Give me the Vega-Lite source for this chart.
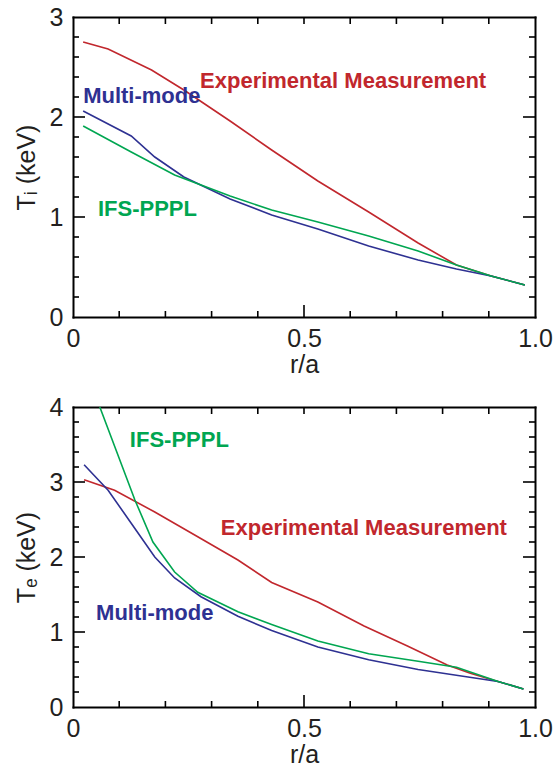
{
  "$schema": "https://vega.github.io/schema/vega-lite/v6.json",
  "padding": {"left": 14, "top": 5, "right": 5, "bottom": 5},
  "spacing": 18,
  "config": {
    "view": {"stroke": null},
    "font": "Liberation Sans",
    "axis": {
      "grid": false, "ticks": false, "tickSize": 0, "domain": true, "domainColor": "#000000", "domainWidth": 2, "domainCap": "square", "zindex": 1,
      "labelFlush": false, "labelOverlap": false,
      "labelFont": "Liberation Sans", "labelFontSize": 25, "labelColor": "#231f20",
      "titleFont": "Liberation Sans", "titleFontSize": 25, "titleFontWeight": "normal", "titleColor": "#231f20"
    },
    "tick": {"thickness": 1.6, "color": "#000000", "opacity": 1}
  },
  "datasets": {
    "ti": [
      {"r": 0.022, "T": 2.75, "s": "exp"}, {"r": 0.076, "T": 2.68, "s": "exp"}, {"r": 0.17, "T": 2.47, "s": "exp"}, {"r": 0.24, "T": 2.27, "s": "exp"}, {"r": 0.34, "T": 1.96, "s": "exp"}, {"r": 0.43, "T": 1.67, "s": "exp"}, {"r": 0.53, "T": 1.36, "s": "exp"}, {"r": 0.64, "T": 1.05, "s": "exp"}, {"r": 0.747, "T": 0.74, "s": "exp"}, {"r": 0.83, "T": 0.52, "s": "exp"}, {"r": 0.905, "T": 0.41, "s": "exp"}, {"r": 0.978, "T": 0.32, "s": "exp"},
      {"r": 0.022, "T": 2.06, "s": "mm"}, {"r": 0.126, "T": 1.81, "s": "mm"}, {"r": 0.177, "T": 1.6, "s": "mm"}, {"r": 0.24, "T": 1.4, "s": "mm"}, {"r": 0.34, "T": 1.18, "s": "mm"}, {"r": 0.43, "T": 1.02, "s": "mm"}, {"r": 0.53, "T": 0.88, "s": "mm"}, {"r": 0.64, "T": 0.71, "s": "mm"}, {"r": 0.747, "T": 0.57, "s": "mm"}, {"r": 0.83, "T": 0.48, "s": "mm"}, {"r": 0.905, "T": 0.41, "s": "mm"}, {"r": 0.978, "T": 0.32, "s": "mm"},
      {"r": 0.022, "T": 1.91, "s": "ifs"}, {"r": 0.126, "T": 1.65, "s": "ifs"}, {"r": 0.22, "T": 1.42, "s": "ifs"}, {"r": 0.34, "T": 1.21, "s": "ifs"}, {"r": 0.43, "T": 1.07, "s": "ifs"}, {"r": 0.53, "T": 0.95, "s": "ifs"}, {"r": 0.64, "T": 0.81, "s": "ifs"}, {"r": 0.747, "T": 0.66, "s": "ifs"}, {"r": 0.83, "T": 0.52, "s": "ifs"}, {"r": 0.905, "T": 0.41, "s": "ifs"}, {"r": 0.978, "T": 0.32, "s": "ifs"}
    ],
    "te": [
      {"r": 0.024, "T": 3.03, "s": "exp"}, {"r": 0.09, "T": 2.89, "s": "exp"}, {"r": 0.177, "T": 2.6, "s": "exp"}, {"r": 0.27, "T": 2.27, "s": "exp"}, {"r": 0.357, "T": 1.96, "s": "exp"}, {"r": 0.43, "T": 1.66, "s": "exp"}, {"r": 0.53, "T": 1.4, "s": "exp"}, {"r": 0.63, "T": 1.08, "s": "exp"}, {"r": 0.725, "T": 0.81, "s": "exp"}, {"r": 0.81, "T": 0.56, "s": "exp"}, {"r": 0.86, "T": 0.45, "s": "exp"}, {"r": 0.92, "T": 0.34, "s": "exp"}, {"r": 0.975, "T": 0.24, "s": "exp"},
      {"r": 0.024, "T": 3.23, "s": "mm"}, {"r": 0.076, "T": 2.89, "s": "mm"}, {"r": 0.126, "T": 2.45, "s": "mm"}, {"r": 0.177, "T": 2.0, "s": "mm"}, {"r": 0.22, "T": 1.72, "s": "mm"}, {"r": 0.277, "T": 1.47, "s": "mm"}, {"r": 0.357, "T": 1.21, "s": "mm"}, {"r": 0.43, "T": 1.02, "s": "mm"}, {"r": 0.53, "T": 0.8, "s": "mm"}, {"r": 0.64, "T": 0.63, "s": "mm"}, {"r": 0.747, "T": 0.5, "s": "mm"}, {"r": 0.855, "T": 0.4, "s": "mm"}, {"r": 0.92, "T": 0.34, "s": "mm"}, {"r": 0.975, "T": 0.24, "s": "mm"},
      {"r": 0.058, "T": 4.0, "s": "ifs"}, {"r": 0.134, "T": 2.76, "s": "ifs"}, {"r": 0.173, "T": 2.2, "s": "ifs"}, {"r": 0.22, "T": 1.8, "s": "ifs"}, {"r": 0.27, "T": 1.53, "s": "ifs"}, {"r": 0.357, "T": 1.27, "s": "ifs"}, {"r": 0.43, "T": 1.1, "s": "ifs"}, {"r": 0.53, "T": 0.88, "s": "ifs"}, {"r": 0.64, "T": 0.71, "s": "ifs"}, {"r": 0.747, "T": 0.61, "s": "ifs"}, {"r": 0.83, "T": 0.53, "s": "ifs"}, {"r": 0.92, "T": 0.34, "s": "ifs"}, {"r": 0.975, "T": 0.24, "s": "ifs"}
    ],
    "tilab": [
      {"r": 0.275, "T": 2.36, "s": "exp", "t": "Experimental Measurement"},
      {"r": 0.022, "T": 2.21, "s": "mm", "t": "Multi-mode"},
      {"r": 0.054, "T": 1.08, "s": "ifs", "t": "IFS-PPPL"}
    ],
    "telab": [
      {"r": 0.32, "T": 2.39, "s": "exp", "t": "Experimental Measurement"},
      {"r": 0.05, "T": 1.25, "s": "mm", "t": "Multi-mode"},
      {"r": 0.123, "T": 3.56, "s": "ifs", "t": "IFS-PPPL"}
    ],
    "xt": [
      {"v": 0.1, "m": "minor"}, {"v": 0.2, "m": "minor"}, {"v": 0.3, "m": "minor"}, {"v": 0.4, "m": "minor"}, {"v": 0.5, "m": "major"},
      {"v": 0.6, "m": "minor"}, {"v": 0.7, "m": "minor"}, {"v": 0.8, "m": "minor"}, {"v": 0.9, "m": "minor"}
    ],
    "yti": [
      {"v": 0.2, "m": "minor"}, {"v": 0.4, "m": "minor"}, {"v": 0.6, "m": "minor"}, {"v": 0.8, "m": "minor"}, {"v": 1, "m": "major"},
      {"v": 1.2, "m": "minor"}, {"v": 1.4, "m": "minor"}, {"v": 1.6, "m": "minor"}, {"v": 1.8, "m": "minor"}, {"v": 2, "m": "major"},
      {"v": 2.2, "m": "minor"}, {"v": 2.4, "m": "minor"}, {"v": 2.6, "m": "minor"}, {"v": 2.8, "m": "minor"}
    ],
    "yte": [
      {"v": 0.2, "m": "minor"}, {"v": 0.4, "m": "minor"}, {"v": 0.6, "m": "minor"}, {"v": 0.8, "m": "minor"}, {"v": 1, "m": "major"},
      {"v": 1.2, "m": "minor"}, {"v": 1.4, "m": "minor"}, {"v": 1.6, "m": "minor"}, {"v": 1.8, "m": "minor"}, {"v": 2, "m": "major"},
      {"v": 2.2, "m": "minor"}, {"v": 2.4, "m": "minor"}, {"v": 2.6, "m": "minor"}, {"v": 2.8, "m": "minor"}, {"v": 3, "m": "major"},
      {"v": 3.2, "m": "minor"}, {"v": 3.4, "m": "minor"}, {"v": 3.6, "m": "minor"}, {"v": 3.8, "m": "minor"}
    ]
  },
  "vconcat": [
    {
      "width": 462, "height": 300,
      "resolve": {"axis": {"x": "independent", "y": "independent"}},
      "layer": [
        {
          "data": {"name": "ti"},
          "mark": {"type": "line", "strokeWidth": 1.6},
          "encoding": {
            "x": {"field": "r", "type": "quantitative", "scale": {"domain": [0, 1]},
                  "axis": {"orient": "bottom", "values": [0, 0.5, 1], "labelPadding": 9, "title": "r/a", "titlePadding": 1,
                           "labelExpr": "datum.value == 0 ? '0' : format(datum.value, '.1f')"}},
            "y": {"field": "T", "type": "quantitative", "scale": {"domain": [0, 3]},
                  "axis": {"orient": "left", "values": [0, 1, 2, 3], "labelPadding": 10, "title": "Tᵢ (keV)", "titlePadding": 10, "format": "d"}},
            "color": {"field": "s", "type": "nominal", "legend": null,
                      "scale": {"domain": ["exp", "mm", "ifs"], "range": ["#c1272d", "#2e3192", "#00a651"]}},
            "detail": {"field": "s"}
          }
        },
        {
          "data": {"name": "tilab"},
          "mark": {"type": "text", "align": "left", "baseline": "middle", "fontWeight": "bold", "fontSize": 22, "font": "Liberation Sans"},
          "encoding": {
            "x": {"field": "r", "type": "quantitative", "axis": null},
            "y": {"field": "T", "type": "quantitative", "axis": null},
            "text": {"field": "t"},
            "color": {"field": "s", "type": "nominal", "legend": null}
          }
        },
        {
          "data": {"name": "xt"},
          "mark": {"type": "tick", "orient": "vertical", "clip": true},
          "encoding": {
            "x": {"field": "v", "type": "quantitative", "axis": {"orient": "top", "labels": false, "title": null, "values": []}},
            "y": {"datum": 0, "type": "quantitative", "axis": null},
            "size": {"field": "m", "type": "nominal", "legend": null, "scale": {"domain": ["major", "minor"], "range": [24, 12]}}
          }
        },
        {
          "data": {"name": "xt"},
          "mark": {"type": "tick", "orient": "vertical", "clip": true, "size": 14},
          "encoding": {
            "x": {"field": "v", "type": "quantitative", "axis": null},
            "y": {"datum": 3, "type": "quantitative", "axis": null}
          }
        },
        {
          "data": {"name": "yti"},
          "mark": {"type": "tick", "orient": "horizontal", "clip": true},
          "encoding": {
            "y": {"field": "v", "type": "quantitative", "axis": {"orient": "right", "labels": false, "title": null, "values": []}},
            "x": {"datum": 0, "type": "quantitative", "axis": null},
            "size": {"field": "m", "type": "nominal", "legend": null, "scale": {"domain": ["major", "minor"], "range": [24, 12]}}
          }
        },
        {
          "data": {"name": "yti"},
          "mark": {"type": "tick", "orient": "horizontal", "clip": true},
          "encoding": {
            "y": {"field": "v", "type": "quantitative", "axis": null},
            "x": {"datum": 1, "type": "quantitative", "axis": null},
            "size": {"field": "m", "type": "nominal", "legend": null, "scale": {"domain": ["major", "minor"], "range": [20, 10]}}
          }
        }
      ]
    },
    {
      "width": 462, "height": 300,
      "resolve": {"axis": {"x": "independent", "y": "independent"}},
      "layer": [
        {
          "data": {"name": "te"},
          "mark": {"type": "line", "strokeWidth": 1.6, "clip": true},
          "encoding": {
            "x": {"field": "r", "type": "quantitative", "scale": {"domain": [0, 1]},
                  "axis": {"orient": "bottom", "values": [0, 0.5, 1], "labelPadding": 9, "title": "r/a", "titlePadding": 1,
                           "labelExpr": "datum.value == 0 ? '0' : format(datum.value, '.1f')"}},
            "y": {"field": "T", "type": "quantitative", "scale": {"domain": [0, 4]},
                  "axis": {"orient": "left", "values": [0, 1, 2, 3, 4], "labelPadding": 10, "title": "Tₑ (keV)", "titlePadding": 10, "format": "d"}},
            "color": {"field": "s", "type": "nominal", "legend": null,
                      "scale": {"domain": ["exp", "mm", "ifs"], "range": ["#c1272d", "#2e3192", "#00a651"]}},
            "detail": {"field": "s"}
          }
        },
        {
          "data": {"name": "telab"},
          "mark": {"type": "text", "align": "left", "baseline": "middle", "fontWeight": "bold", "fontSize": 22, "font": "Liberation Sans"},
          "encoding": {
            "x": {"field": "r", "type": "quantitative", "axis": null},
            "y": {"field": "T", "type": "quantitative", "axis": null},
            "text": {"field": "t"},
            "color": {"field": "s", "type": "nominal", "legend": null}
          }
        },
        {
          "data": {"name": "xt"},
          "mark": {"type": "tick", "orient": "vertical", "clip": true},
          "encoding": {
            "x": {"field": "v", "type": "quantitative", "axis": {"orient": "top", "labels": false, "title": null, "values": []}},
            "y": {"datum": 0, "type": "quantitative", "axis": null},
            "size": {"field": "m", "type": "nominal", "legend": null, "scale": {"domain": ["major", "minor"], "range": [24, 12]}}
          }
        },
        {
          "data": {"name": "xt"},
          "mark": {"type": "tick", "orient": "vertical", "clip": true, "size": 14},
          "encoding": {
            "x": {"field": "v", "type": "quantitative", "axis": null},
            "y": {"datum": 4, "type": "quantitative", "axis": null}
          }
        },
        {
          "data": {"name": "yte"},
          "mark": {"type": "tick", "orient": "horizontal", "clip": true},
          "encoding": {
            "y": {"field": "v", "type": "quantitative", "axis": {"orient": "right", "labels": false, "title": null, "values": []}},
            "x": {"datum": 0, "type": "quantitative", "axis": null},
            "size": {"field": "m", "type": "nominal", "legend": null, "scale": {"domain": ["major", "minor"], "range": [24, 12]}}
          }
        },
        {
          "data": {"name": "yte"},
          "mark": {"type": "tick", "orient": "horizontal", "clip": true},
          "encoding": {
            "y": {"field": "v", "type": "quantitative", "axis": null},
            "x": {"datum": 1, "type": "quantitative", "axis": null},
            "size": {"field": "m", "type": "nominal", "legend": null, "scale": {"domain": ["major", "minor"], "range": [20, 10]}}
          }
        }
      ]
    }
  ]
}
